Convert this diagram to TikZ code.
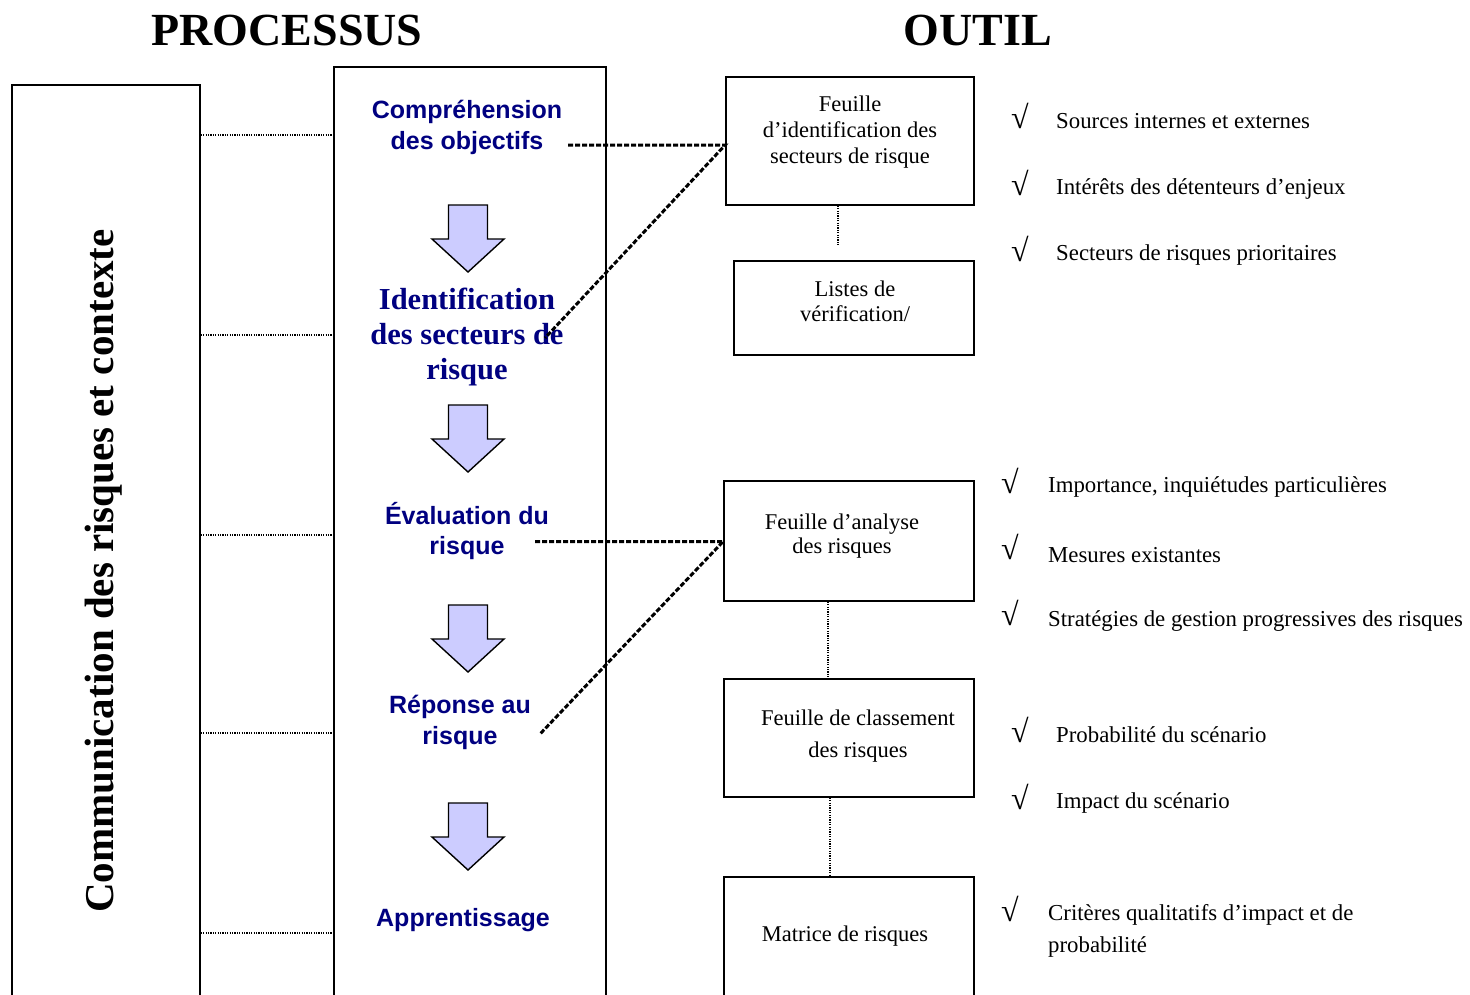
\documentclass[tikz,border=0pt]{standalone}
\usepackage{fontspec}
\setmainfont{Liberation Serif}
\newfontfamily\arialfont{Liberation Sans}
\definecolor{navyb}{RGB}{0,0,128}
\definecolor{lav}{RGB}{204,204,255}
\newcommand\myfs[2]{\fontsize{#1}{#2}\selectfont}
\begin{document}
\begin{tikzpicture}[x=1pt,y=-1pt,
 box/.style={draw,line width=1.6pt,inner sep=0pt},
 txt/.style={align=center,inner sep=0pt,font=\myfs{22.5}{25}},
 proc/.style={align=center,inner sep=0pt,text=navyb,font=\arialfont\bfseries\myfs{25}{31}},
 dotline/.style={line width=1.2pt,dash pattern=on 1.2pt off 1.2pt},
 dashline/.style={line width=3pt,dash pattern=on 5pt off 2pt},
 blockarrow/.style={draw,fill=lav,line width=1.4pt,line join=miter},
 check/.style={anchor=west,inner sep=0pt,font=\myfs{32}{34}},
 item/.style={anchor=west,inner sep=0pt,font=\myfs{22.8}{32},align=left},
]
\useasboundingbox (0,0) rectangle (1470,994);
\clip (0,0) rectangle (1470,994);

% titles
\node[font=\bfseries\myfs{46}{50}] (titleP) at (287,30) {PROCESSUS};
\node[font=\bfseries\myfs{46}{50}] (titleO) at (978,30) {OUTIL};

% left column
\node[box,minimum width=188pt,minimum height=925pt] (comm) at (106,547.5) {};
\node[rotate=90,inner sep=0pt,font=\bfseries\myfs{41}{45}] (commtxt) at (104,571) {Communication des risques et contexte};

% process column
\node[box,minimum width=272pt,minimum height=943pt] (procbox) at (470,538.5) {};
\node[proc] (p1) at (467,127) {Compréhension\\des objectifs};
\node[proc,font=\bfseries\myfs{30.5}{35}] (p2) at (467,337) {Identification\\des secteurs de\\risque};
\node[proc,font=\arialfont\bfseries\myfs{25}{30}] (p3) at (467,531) {Évaluation du\\risque};
\node[proc,font=\arialfont\bfseries\myfs{25}{31}] (p4) at (460,722) {Réponse au\\risque};
\node[proc] (p5) at (463,920) {Apprentissage};

% block arrows
\foreach \yy in {205,405,605,803}{
  \draw[blockarrow] (448.5,\yy) -- (487.5,\yy) -- (487.5,\yy+34) -- (504,\yy+34)
     -- (468,\yy+67) -- (432,\yy+34) -- (448.5,\yy+34) -- cycle;
}

% dotted links between left and process column
\foreach \yy in {135,335,535,733,933}{
  \draw[dotline] (comm.east |- 0,\yy) -- (procbox.west |- 0,\yy);
}

% tool boxes
\node[box,minimum width=248pt,minimum height=128pt] (t1) at (850,141) {};
\node[box,minimum width=240pt,minimum height=94pt] (t2) at (854,308) {};
\node[box,minimum width=250pt,minimum height=120pt] (t3) at (849,541) {};
\node[box,minimum width=250pt,minimum height=118pt] (t4) at (849,738) {};
\node[box,minimum width=250pt,minimum height=133pt] (t5) at (849,943.5) {};

\node[txt,font=\myfs{22.5}{26}] (t1txt) at (850,132) {Feuille\\d’identification des\\secteurs de risque};
\node[txt] (t2txt) at (855,301) {Listes de\\vérification/};
\node[txt,font=\myfs{22.5}{24}] (t3txt) at (842,536) {Feuille d’analyse\\des risques};
\node[txt,font=\myfs{22.5}{32}] (t4txt) at (858,736) {Feuille de classement\\des risques};
\node[txt] (t5txt) at (845,936) {Matrice de risques};

% dotted links between tool boxes
\coordinate (v1end) at (838,245);
\draw[dotline] (t1.south -| v1end) -- (v1end);
\coordinate (v2) at (828,0);
\draw[dotline] (t3.south -| v2) -- (t4.north -| v2);
\coordinate (v3) at (830,0);
\draw[dotline] (t4.south -| v3) -- (t5.north -| v3);

% dashed connectors
\coordinate (d1a) at (568,145);
\coordinate (d1b) at (545,338);
\coordinate (j1) at (t1.west |- d1a);
\draw[dashline] (d1a) -- (j1) -- (d1b);
\coordinate (d2a) at (535,541.5);
\coordinate (d2b) at (540,734);
\coordinate (j2) at (t3.west |- d2a);
\draw[dashline] (d2a) -- (j2) -- (d2b);

% check lists
\node[check] (c1) at (1011,116) {√};
\node[item] (i1) at (1056,121) {Sources internes et externes};
\node[check] (c2) at (1011,183) {√};
\node[item] (i2) at (1056,189) {Intérêts des détenteurs d’enjeux};
\node[check] (c3) at (1011,249) {√};
\node[item] (i3) at (1056,255) {Secteurs de risques prioritaires};

\node[check] (c4) at (1001,481) {√};
\node[item] (i4) at (1048,487) {Importance, inquiétudes particulières};
\node[check] (c5) at (1001,547) {√};
\node[item] (i5) at (1048,555) {Mesures existantes};
\node[check] (c6) at (1001,613) {√};
\node[item] (i6) at (1048,621) {Stratégies de gestion progressives des risques};

\node[check] (c7) at (1011,730) {√};
\node[item] (i7) at (1056,735) {Probabilité du scénario};
\node[check] (c8) at (1011,797) {√};
\node[item] (i8) at (1056,803) {Impact du scénario};

\node[check] (c9) at (1001,909) {√};
\node[item] (i9) at (1048,931) {Critères qualitatifs d’impact et de\\probabilité};
\end{tikzpicture}
\end{document}
